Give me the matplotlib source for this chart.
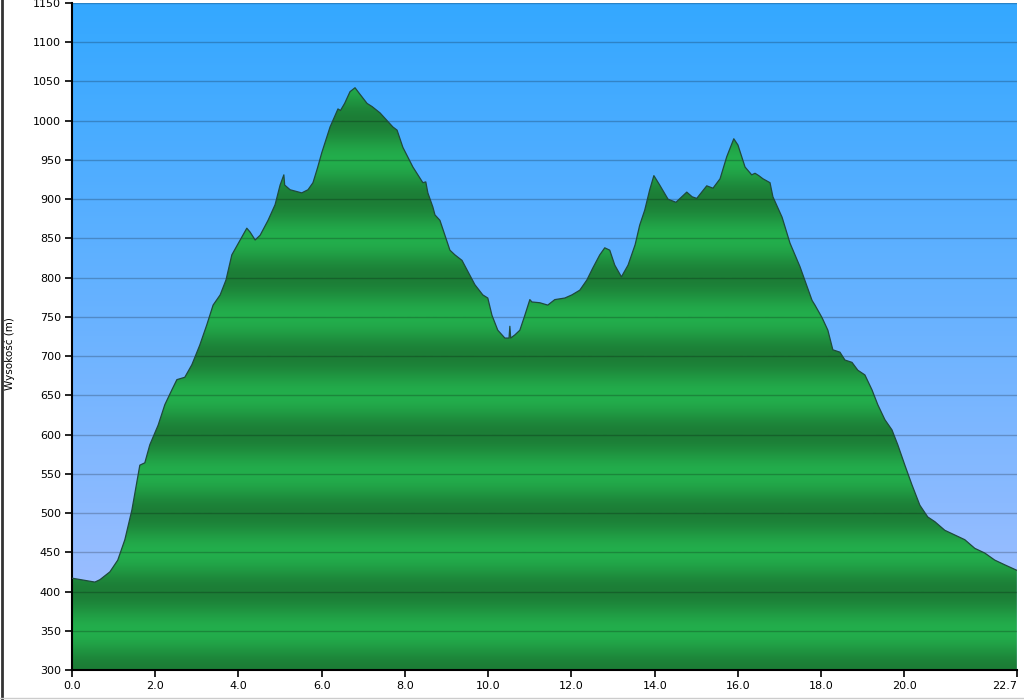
import numpy as np
import matplotlib.pyplot as plt
from matplotlib.colors import LinearSegmentedColormap

# profile (km, m)
dist = [0.0, 0.55, 0.67, 0.91, 1.1, 1.27, 1.44, 1.63, 1.75, 1.87, 2.07, 2.23, 2.4, 2.52,
        2.71, 2.88, 3.07, 3.24, 3.39, 3.56, 3.7, 3.84, 4.04, 4.2, 4.28, 4.4, 4.52, 4.71,
        4.88, 5.0, 5.09, 5.11, 5.24, 5.52, 5.67, 5.79, 5.9, 6.0, 6.2, 6.39, 6.45, 6.55, 6.68,
        6.8, 6.9, 7.09, 7.21, 7.4, 7.71, 7.81, 7.95, 8.19, 8.43, 8.5, 8.55, 8.67, 8.72,
        8.84, 8.96, 9.08, 9.2, 9.37, 9.49, 9.68, 9.87, 9.99, 10.09, 10.23, 10.4, 10.5,
        10.52, 10.54, 10.64, 10.76, 10.88, 11.0, 11.05, 11.24, 11.43, 11.6, 11.84, 12.01,
        12.2, 12.37, 12.51, 12.68, 12.8, 12.92, 13.04, 13.2, 13.36, 13.53, 13.64, 13.76,
        13.88, 13.98, 14.12, 14.32, 14.51, 14.65, 14.77, 14.9, 15.01, 15.25, 15.4,
        15.57, 15.73, 15.9, 16.0, 16.17, 16.33, 16.41, 16.5, 16.6, 16.77, 16.84,
        17.06, 17.25, 17.49, 17.78, 17.85, 18.02, 18.16, 18.28, 18.45, 18.57, 18.74,
        18.88, 19.05, 19.22, 19.36, 19.53, 19.7, 19.84, 20.01, 20.18, 20.37, 20.56, 20.73,
        20.97, 21.21, 21.45, 21.69, 21.93, 22.17, 22.41, 22.7]
elev = [417, 412, 415, 425, 440, 466, 504, 561, 564, 587, 612, 638, 657, 670,
        673, 689, 714, 740, 765, 778, 797, 829, 848, 863, 858, 848, 854, 873,
        893, 918, 931, 918, 912, 908, 912, 921, 940, 959, 992, 1015, 1013, 1022, 1037,
        1042, 1035, 1022, 1018, 1010, 992, 988, 966, 941, 921, 922, 908, 890, 880,
        873, 854, 835, 829, 822, 810, 791, 778, 774, 752, 733, 723, 723,
        738, 723, 727, 733, 752, 772, 769, 768, 765, 772, 774, 778,
        784, 797, 812, 829, 838, 835, 816, 801, 816, 842, 867, 886,
        912, 930, 918, 900, 896, 903, 909, 903, 901, 917, 914,
        926, 954, 977, 969, 941, 931, 933, 930, 926, 921, 903,
        877, 844, 814, 771, 765, 749, 733, 708, 705, 695, 692,
        682, 676, 657, 638, 619, 606, 587, 561, 536, 510, 495, 489,
        478, 472, 466, 455, 449, 440, 434, 427]

yticks = list(range(300, 1151, 50))
xticks = [0, 2, 4, 6, 8, 10, 12, 14, 16, 18, 20, 22.7]

fig = plt.figure(figsize=(10.24, 7), dpi=100)
ax = fig.add_axes([0.0703, 0.0429, 0.9227, 0.9528])
ax.set_xlim(0, 22.7)
ax.set_ylim(300, 1150)

# sky gradient
sky = LinearSegmentedColormap.from_list('sky', ['#aac1ff', '#6cb3ff', '#34a8ff'])
grad = np.linspace(0, 1, 256).reshape(-1, 1)
ax.imshow(grad, cmap=sky, origin='lower', aspect='auto',
          extent=[0, 22.7, 300, 1150], zorder=0)

# green fill with 100 m bands
poly = ax.fill_between(dist, elev, 300, facecolor='none', edgecolor='none', zorder=1)
yy = np.linspace(300, 1150, 2000)
band = (1 - np.cos(2 * np.pi * yy / 100)) / 2
green = LinearSegmentedColormap.from_list('grn', ['#1c7d36', '#23ae4c'])
im = ax.imshow(band.reshape(-1, 1), cmap=green, origin='lower', aspect='auto',
               extent=[0, 22.7, 300, 1150], zorder=1, vmin=0, vmax=1)
im.set_clip_path(poly.get_paths()[0], transform=ax.transData)

ax.plot(dist, elev, color='#1f4a3c', lw=0.9, zorder=3)

for v in yticks[1:]:
    ax.axhline(v, color='black', alpha=0.22, lw=1, zorder=2)

ax.set_yticks(yticks)
ax.set_xticks(xticks)
ax.set_xticklabels(['%.1f' % t for t in xticks])
ax.get_xticklabels()[-1].set_horizontalalignment('right')
ax.tick_params(direction='out', length=5, width=1.2, labelsize=8, colors='black', pad=3)
ax.set_ylabel('Wysokość (m)', fontsize=7.5)
ax.yaxis.set_label_coords(-0.060, 0.475)
ax.spines['top'].set_visible(False)
ax.spines['right'].set_visible(False)
ax.spines['left'].set_linewidth(1.5)
ax.spines['bottom'].set_linewidth(1.5)

# thin frame bits seen at the picture edges
fig.add_artist(plt.Line2D([0.0015, 0.0015], [0, 1], color='#333333', lw=2))
fig.add_artist(plt.Line2D([0, 1], [0.003, 0.003], color='#cccccc', lw=1))

fig.savefig('out.png', dpi=100)
